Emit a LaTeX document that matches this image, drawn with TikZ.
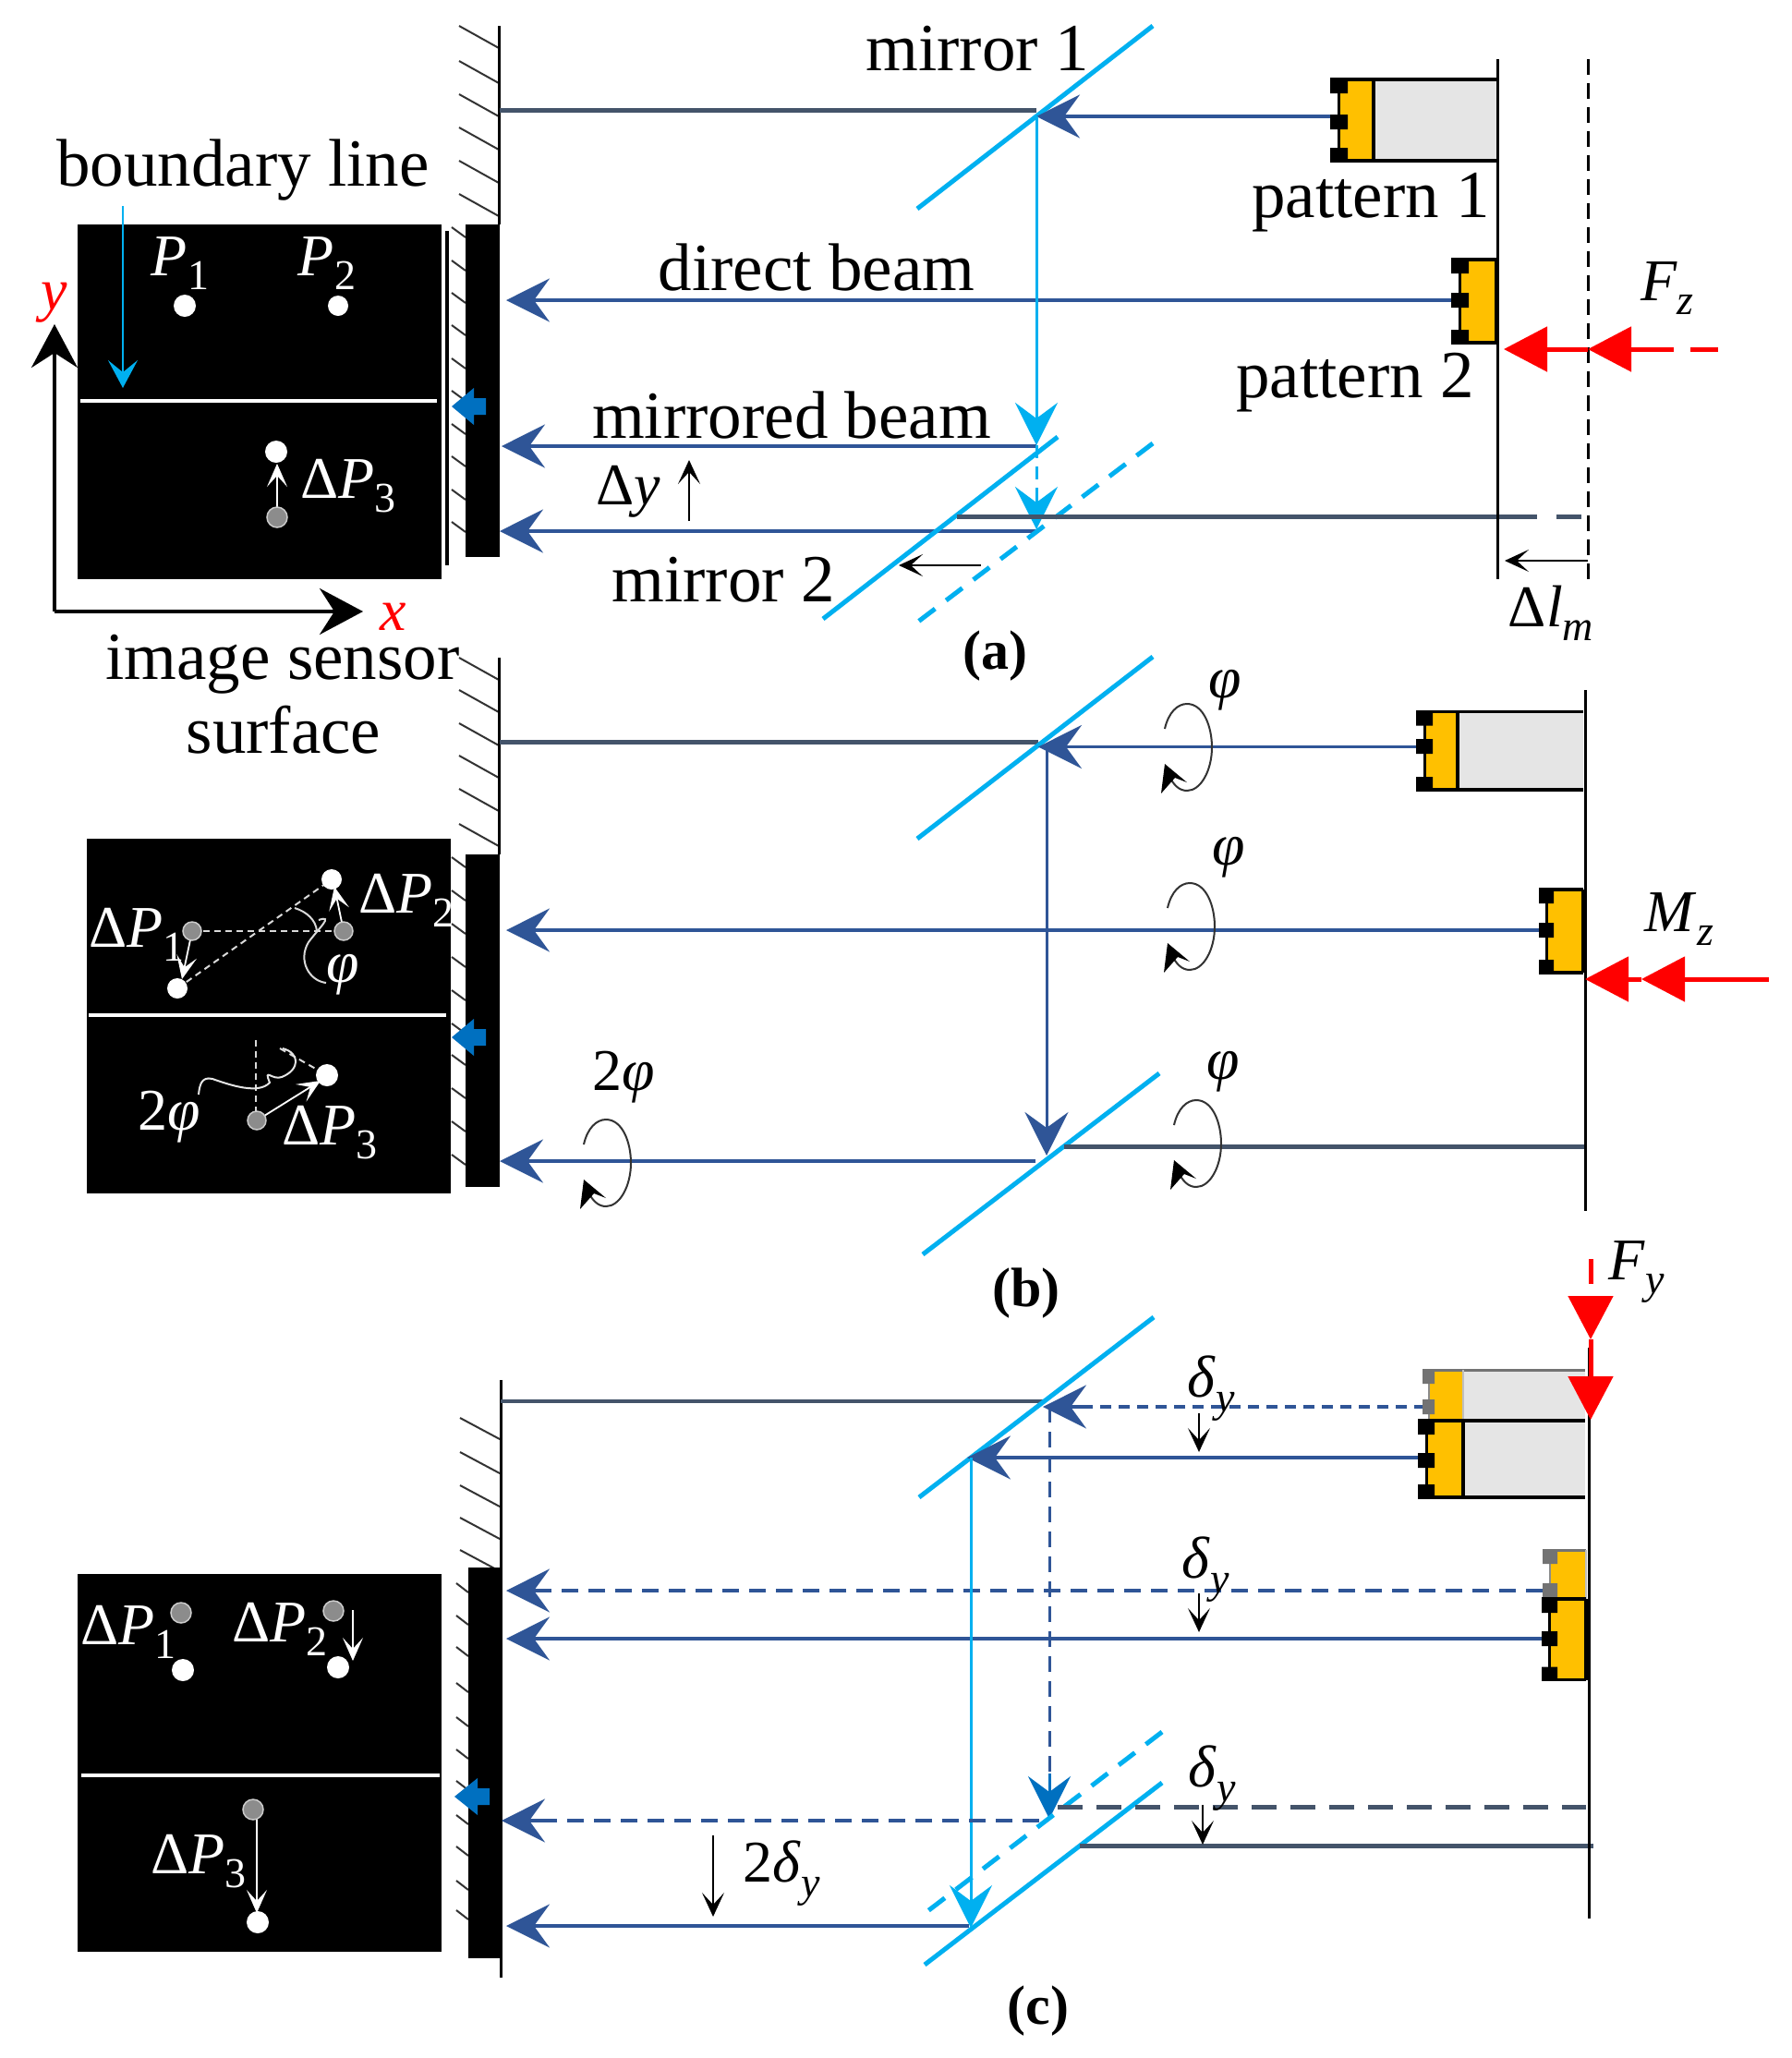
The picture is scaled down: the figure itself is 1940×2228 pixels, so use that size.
\documentclass[tikz,border=0pt]{standalone}
\usepackage[no-math]{fontspec}
\setmainfont{Liberation Serif}
\usetikzlibrary{arrows.meta}
\definecolor{beamdark}{HTML}{44546A}
\definecolor{beamblue}{HTML}{2F5597}
\definecolor{mircyan}{HTML}{00B0F0}
\definecolor{patyellow}{HTML}{FFC000}
\definecolor{patgray}{HTML}{E5E5E5}
\definecolor{senblue}{HTML}{0070C0}
\definecolor{midgray}{HTML}{8C8C8C}
\newcommand{\lsb}[1]{\raisebox{-0.24em}{\fontsize{46}{50}\selectfont #1}}
\newcommand{\iv}[1]{\textit{#1}}
\newcommand{\dP}[1]{Δ\iv{P}\lsb{#1}}
\tikzset{
 lab/.style={font=\fontsize{73}{78}\selectfont,inner sep=0pt,text=black},
 mlab/.style={font=\fontsize{64}{68}\selectfont,inner sep=0pt},
 wlab/.style={mlab,text=white},
 caplab/.style={font=\fontsize{60}{64}\selectfont\bfseries,inner sep=0pt},
 wall/.style={black,line width=3pt},
 hatchl/.style={black!80,line width=2pt},
 mirror/.style={mircyan,line width=5pt},
 mirrord/.style={mircyan,line width=5pt,dash pattern=on 22pt off 15pt},
 ddark/.style={beamdark,line width=5pt},
 dblue/.style={beamblue,line width=3.2pt},
 bluehead/.style={-{Stealth[length=47pt,width=47pt,inset=17pt]}},
 cyanv/.style={mircyan,line width=3pt,-{Stealth[length=46pt,width=46pt,inset=17pt]}},
 redl/.style={red,line width=5pt},
 redhead/.style={-{Stealth[length=47pt,width=48pt,inset=0pt]}},
 thinarrow/.style={black,line width=2pt,-{Stealth[length=26pt,width=24pt,inset=13pt]}},
 warrow/.style={white,line width=1.8pt,-{Stealth[length=25pt,width=22pt,inset=12pt]}},
 wdash/.style={white!85!black,line width=2pt,dash pattern=on 7pt off 5pt},
 wdot/.style={fill=white,draw=none},
 gdot/.style={fill=midgray,draw=white!80!black,line width=1.5pt},
 curlline/.style={black!80,line width=2pt},
}
% pattern: sqL sqR yTop yBot ymid yellowRight grayRight(or same)
\newcommand{\patt}[7]{%
 \fill[patgray] (#6,#3) rectangle (#7,#4);
 \fill[patyellow] ({(#1+#2)/2},#3) rectangle (#6,#4);
 \draw[black,line width=3.5pt] (#1,#3) -- (#7,#3) (#1,#4) -- (#7,#4) (#6,#3) -- (#6,#4);
 \draw[black,line width=3pt] ({(#1+#2)/2},#3) -- ({(#1+#2)/2},#4);
 \fill[black] (#1,#3-1) rectangle (#2,#3+15) (#1,#5-8) rectangle (#2,#5+8) (#1,#4-14) rectangle (#2,#4+1);
}
\newcommand{\pattshadow}[7]{%
 \fill[patgray] (#6,#3) rectangle (#7,#4);
 \fill[patyellow] ({(#1+#2)/2},#3) rectangle (#6,#4);
 \draw[black!55,line width=3pt] ({(#1+#2)/2},#3) -- (#7,#3);
 \draw[black!25,line width=2pt] (#6,#3) -- (#6,#4);
 \draw[black!45,line width=2pt] ({(#1+#2)/2},#3) -- ({(#1+#2)/2},#4);
 \fill[black!55] (#1,#3-1) rectangle (#2,#3+15) (#1,#5-8) rectangle (#2,#5+8);
}
% curl arrow centred at cx,cy
\newcommand{\curl}[2]{%
 \draw[curlline] (#1-24,#2-20) .. controls (#1-20,#2-38) and (#1-10,#2-47) .. (#1,#2-47)
  .. controls (#1+18,#2-47) and (#1+27,#2-22) .. (#1+27,#2)
  .. controls (#1+27,#2+25) and (#1+15,#2+47) .. (#1,#2+47)
  .. controls (#1-9,#2+47) and (#1-15,#2+40) .. (#1-20,#2+30);
 \fill[black] (#1-24,#2+18) -- (#1,#2+38) -- (#1-13,#2+33) -- (#1-28,#2+50) -- cycle;
}
\begin{document}
\begin{tikzpicture}[x=1pt,y=-1pt]
\useasboundingbox (0,0) rectangle (1940,2228);
\fill[white] (0,0) rectangle (1940,2228);

%%%%%%%%%%%%%%%%%%%% PANEL A
\foreach \y in {28,66,102,138,174,210}{\draw[hatchl] (497,\y) -- (540,\y+24);}
\foreach \y in {246,282,317,352,388,423,459,494,530,565}{\draw[hatchl] (489,\y) -- (504,\y+11);}
\draw[wall] (540,28) -- (540,243);
\fill[black] (84,243) rectangle (478,627);
\draw[black,line width=4pt] (484,250) -- (484,612);
\fill[black] (504,243) rectangle (541,603);
\draw[white,line width=3.5pt] (87,434) -- (473,434);
\draw[mircyan,line width=1.8pt,-{Stealth[length=30pt,width=32pt,inset=13pt]}] (133,223) -- (133,420);
\fill[senblue] (526,431) -- (513,431) -- (513,420) -- (489,440) -- (513,460) -- (513,449) -- (526,449) -- cycle;
\fill[wdot] (200,331) circle (12pt);
\fill[wdot] (366,331) circle (11pt);
\fill[wdot] (299,489) circle (12pt);
\draw[warrow] (300,560) -- (300,502);
\filldraw[gdot] (300,560) circle (11pt);
\node[wlab] (pa1) at (195,285) {\iv{P}\lsb{1}};
\node[wlab] (pa2) at (354,285) {\iv{P}\lsb{2}};
\node[wlab] (pa3) at (377,526) {\dP{3}};
\draw[black,line width=4pt,-{Stealth[length=47pt,width=50pt,inset=16pt]}] (59,662) -- (59,351);
\draw[black,line width=4pt,-{Stealth[length=47pt,width=50pt,inset=16pt]}] (59,662) -- (393,662);
\node[mlab,text=red] (ya) at (59,328) {\iv{y}};
\node[mlab,text=red] (xa) at (426,668) {\iv{x}};
\node[lab] (bl) at (263,184) {boundary line};
\node[lab] (is) at (306,719) {image sensor};
\node[lab] (su) at (307,790) {surface};
% beams a
\draw[ddark] (541,119) -- (1122,119);
\draw[mirror] (993,226) -- (1248,28);
\draw[dblue,bluehead] (1444,126) -- (1122,126);
\draw[dblue,bluehead] (1571,325) -- (548,325);
\draw[dblue,bluehead] (1122,483) -- (543,483);
\draw[dblue,bluehead] (1122,575) -- (541,575);
\draw[mircyan,line width=3pt] (1122,126) -- (1122,440);
\draw[cyanv] (1122,440) -- (1122,482);
\draw[mirror] (891,670) -- (1145,473);
\draw[mirrord] (1248,480) -- (990,676);
\draw[mircyan,line width=3pt,dash pattern=on 14pt off 9pt] (1122,482) -- (1122,535);
\draw[cyanv] (1122,530) -- (1122,573);
\draw[ddark] (1036,559) -- (1664,559);
\draw[ddark] (1685,559) -- (1712,559);
\draw[black,line width=3pt] (1621.5,64) -- (1621.5,627);
\draw[black,line width=3pt,dash pattern=on 17pt off 9pt] (1719,64) -- (1719,627);
\patt{1440}{1459}{86}{174}{132}{1487}{1620}
\patt{1571}{1590}{281}{371}{325}{1620}{1620}
\draw[redl,redhead] (1719,378) -- (1628,378);
\draw[redl,redhead] (1782,378) -- (1719,378);
\draw[redl] (1782,378) -- (1812,378) (1830,378) -- (1860,378);
\draw[thinarrow] (1062,612) -- (973,612);
\draw[thinarrow] (1719,607) -- (1629,607);
\node[lab] (m1) at (1058,53) {mirror 1};
\node[lab] (p1) at (1484,219) {pattern 1};
\node[lab] (p2) at (1467,414) {pattern 2};
\node[lab] (db) at (884,290) {direct beam};
\node[lab] (mb) at (857,450) {mirrored beam};
\node[lab] (m2) at (783,628) {mirror 2};
\node[mlab] (dy) at (680,532) {Δ\iv{y}};
\coordinate (dyb) at (746,564);
\coordinate (dyt) at (746,498);
\draw[thinarrow] (dyb) -- (dyt);
\node[mlab] (fz) at (1805,312) {\iv{F}\lsb{\iv{z}}};
\node[mlab] (dl) at (1679,664) {Δ\iv{l}\lsb{\iv{m}}};
\node[caplab] (capa) at (1077,710) {(a)};

%%%%%%%%%%%%%%%%%%%% PANEL B
\foreach \y in {712,747,783,818,854,892}{\draw[hatchl] (497,\y) -- (540,\y+24);}
\foreach \y in {928,964,1000,1036,1072,1108,1142,1178,1214,1250}{\draw[hatchl] (489,\y) -- (504,\y+11);}
\draw[wall] (540,712) -- (540,925);
\fill[black] (94,908) rectangle (488,1292);
\fill[black] (504,925) rectangle (541,1285);
\draw[white,line width=3.5pt] (96,1099) -- (483,1099);
\fill[senblue] (526,1114) -- (513,1114) -- (513,1103) -- (489,1123) -- (513,1143) -- (513,1132) -- (526,1132) -- cycle;
\draw[wdash] (208,1008) -- (372,1008);
\draw[wdash] (192,1070) -- (359,952);
\draw[warrow] (208,1008) -- (197,1060);
\draw[warrow] (372,1008) -- (362,960);
\filldraw[gdot] (208,1008) circle (10pt);
\filldraw[gdot] (372,1008) circle (10pt);
\fill[wdot] (359,952) circle (11pt);
\fill[wdot] (192,1070) circle (11pt);
\node[wlab] (d1b) at (148,1012) {\dP{1}};
\node[wlab] (d2b) at (440,975) {\dP{2}};
\node[wlab] (phb) at (371,1055) {\iv{φ}};
\draw[white!85!black,line width=2pt] (319,983) .. controls (332,987) and (342,996) .. (343,1008);
\draw[white!85!black,line width=2pt] (345,996) .. controls (362,990) and (345,1005) .. (334,1020) .. controls (322,1040) and (335,1062) .. (353,1064);
\draw[wdash] (277,1126) -- (277,1204);
\draw[wdash] (303,1135) -- (354,1164);
\draw[white!90!black,line width=2pt] (306,1135) .. controls (325,1140) and (325,1158) .. (305,1166) .. controls (295,1170) and (285,1155) .. (292,1172) .. controls (280,1185) and (250,1175) .. (230,1168) .. controls (218,1165) and (216,1175) .. (215,1185);
\draw[warrow] (278,1213) -- (347,1170);
\filldraw[gdot] (278,1213) circle (10pt);
\fill[wdot] (354,1164) circle (12pt);
\node[wlab] (tpb) at (183,1209) {2\iv{φ}};
\node[wlab] (d3b) at (357,1226) {\dP{3}};
% beams b
\draw[ddark] (541,803) -- (1124,803);
\draw[mirror] (993,908) -- (1248,711);
\draw[dblue,bluehead] (1540,808.5) -- (1124,808.5);
\draw[dblue,bluehead] (1666,1007) -- (548,1007);
\draw[dblue,bluehead] (1121,1257) -- (541,1257);
\draw[dblue,line width=3pt,bluehead] (1133,808) -- (1133,1251);
\draw[mirror] (999,1358) -- (1255,1162);
\draw[ddark] (1152,1241.5) -- (1716,1241.5);
\draw[black,line width=3pt] (1716,747) -- (1716,1311);
\patt{1533}{1551}{770.5}{855}{808}{1578}{1714}
\patt{1666}{1682}{963}{1053}{1007}{1714}{1714}
\draw[redl,redhead] (1777,1060) -- (1716,1060);
\draw[redl,redhead] (1915,1060) -- (1777,1060);
\curl{1285}{809}
\curl{1288}{1003}
\curl{1295}{1238}
\curl{656}{1259}
\node[mlab] (ph1) at (1326,747) {\iv{φ}};
\node[mlab] (ph2) at (1330,928) {\iv{φ}};
\node[mlab] (ph3) at (1324,1160) {\iv{φ}};
\node[mlab] (tp) at (675,1166) {2\iv{φ}};
\node[mlab] (mz) at (1818,995) {\iv{M}\lsb{\iv{z}}};
\node[caplab] (capb) at (1111,1400) {(b)};

%%%%%%%%%%%%%%%%%%%% PANEL C
\foreach \y in {1535,1572,1608,1643,1678}{\draw[hatchl] (498,\y) -- (541,\y+23);}
\foreach \y in {1714,1749,1783,1822,1859,1894,1928,1965,1999,2036,2068}{\draw[hatchl] (494,\y) -- (507,\y+10);}
\draw[wall] (542,1494) -- (542,2141);
\fill[black] (84,1704) rectangle (478,2113);
\fill[black] (507,1697) rectangle (543,2120);
\draw[white,line width=3.5pt] (88,1922) -- (476,1922);
\fill[senblue] (530,1936) -- (517,1936) -- (517,1925) -- (492,1945) -- (517,1965) -- (517,1954) -- (530,1954) -- cycle;
\filldraw[gdot] (196,1746) circle (11pt);
\fill[wdot] (198,1808) circle (12pt);
\filldraw[gdot] (361,1744) circle (11pt);
\fill[wdot] (366,1805) circle (12pt);
\draw[warrow] (382,1743) -- (382,1798);
\draw[warrow] (278,1965) -- (278,2071);
\filldraw[gdot] (274,1959) circle (11pt);
\fill[wdot] (279,2081) circle (12pt);
\node[wlab] (d1c) at (139,1767) {\dP{1}};
\node[wlab] (d2c) at (303,1764) {\dP{2}};
\node[wlab] (d3c) at (215,2015) {\dP{3}};
% beams c
\draw[ddark,line width=4pt] (542,1517) -- (1129,1517);
\draw[mirror] (995,1621) -- (1249,1426);
\draw[dblue,dash pattern=on 12pt off 8pt] (1543,1523) -- (1172,1523);
\draw[dblue,bluehead] (1176,1523) -- (1129,1523);
\draw[dblue,bluehead] (1537,1578) -- (1047,1578);
\draw[dblue,dash pattern=on 18pt off 11pt] (1670,1722) -- (593,1722);
\draw[dblue,bluehead] (597,1722) -- (548,1722);
\draw[dblue,bluehead] (1669,1774) -- (548,1774);
\draw[mircyan,line width=3pt] (1051,1578) -- (1051,2048);
\draw[cyanv] (1051,2040) -- (1051,2087);
\draw[beamblue,line width=3pt,dash pattern=on 17pt off 10pt] (1136,1523) -- (1136,1926);
\draw[senblue,line width=3pt,-{Stealth[length=46pt,width=46pt,inset=17pt]}] (1136,1920) -- (1136,1969);
\draw[mirrord] (1258,1875) -- (999,2073);
\draw[mirror] (1258,1930) -- (1001,2127);
\draw[ddark,dash pattern=on 27pt off 15pt] (1145,1956) -- (1717,1956);
\draw[ddark] (1169,1998.6) -- (1725,1998.6);
\draw[dblue,dash pattern=on 18pt off 11pt] (1125,1971) -- (588,1971);
\draw[dblue,bluehead] (592,1971) -- (543,1971);
\draw[dblue,bluehead] (1049,2085) -- (548,2085);
\pattshadow{1540}{1553}{1483}{1538}{1523}{1584}{1716}
\patt{1535}{1553}{1538}{1621}{1581}{1584}{1716}
\pattshadow{1670}{1686}{1678}{1731}{1722}{1717}{1717}
\patt{1669}{1686}{1731}{1818.5}{1774}{1717}{1717}
\draw[black,line width=3pt] (1720,1459) -- (1720,2077);
\draw[redl,redhead] (1722,1450) -- (1722,1537);
\draw[redl,redhead] (1722,1405) -- (1722,1450);
\draw[redl] (1722,1363) -- (1722,1390);
\draw[thinarrow] (1298,1530) -- (1298,1572);
\draw[thinarrow] (1298,1725) -- (1298,1767);
\draw[thinarrow] (1302,1954) -- (1302,1997);
\draw[thinarrow] (772,1987) -- (772,2075);
\node[mlab] (de1) at (1311,1503) {\iv{δ}\lsb{\iv{y}}};
\node[mlab] (de2) at (1305,1699) {\iv{δ}\lsb{\iv{y}}};
\node[mlab] (de3) at (1312,1925) {\iv{δ}\lsb{\iv{y}}};
\node[mlab] (tde) at (846,2028) {2\iv{δ}\lsb{\iv{y}}};
\node[mlab] (fy) at (1772,1377) {\iv{F}\lsb{\iv{y}}};
\node[caplab] (capc) at (1124,2177) {(c)};
\end{tikzpicture}
\end{document}
